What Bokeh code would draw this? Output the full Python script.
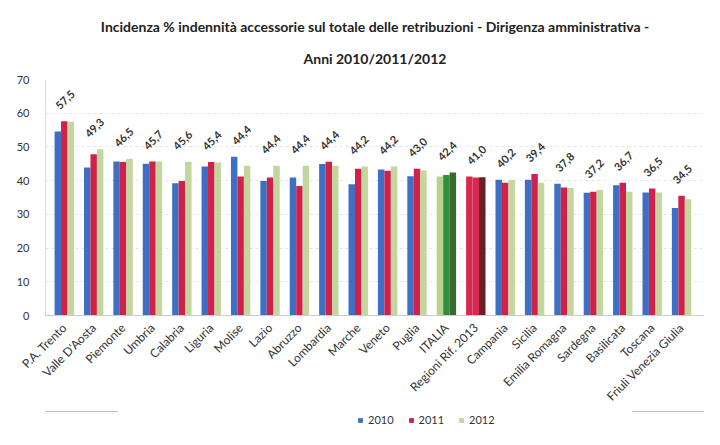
import math
from bokeh.plotting import figure
from bokeh.layouts import column
from bokeh.models import (ColumnDataSource, FixedTicker, Title, Legend, LegendItem)
from bokeh.transform import dodge
from bokeh.core.properties import value
from bokeh.embed import file_html
from bokeh.resources import INLINE

categories = ["P.A. Trento", "Valle D'Aosta", "Piemonte", "Umbria", "Calabria", "Liguria",
              "Molise", "Lazio", "Abruzzo", "Lombardia", "Marche", "Veneto", "Puglia",
              "ITALIA", "Regioni Rif. 2013", "Campania", "Sicilia", "Emilia Romagna",
              "Sardegna", "Basilicata", "Toscana", "Friuli Venezia Giulia"]
v2010 = [54.6, 43.9, 45.7, 45.0, 39.2, 44.2, 47.1, 39.9, 40.9, 44.9, 38.9, 43.3, 41.3,
         41.2, 41.2, 40.3, 40.3, 39.1, 36.4, 38.6, 36.5, 31.9]
v2011 = [57.6, 47.8, 45.5, 45.7, 39.9, 45.5, 41.2, 40.9, 38.4, 45.6, 43.5, 42.9, 43.5,
         41.7, 40.9, 39.4, 42.0, 38.0, 36.7, 39.4, 37.7, 35.5]
v2012 = [57.5, 49.3, 46.5, 45.7, 45.6, 45.4, 44.4, 44.4, 44.4, 44.4, 44.2, 44.2, 43.0,
         42.4, 41.0, 40.2, 39.4, 37.8, 37.2, 36.7, 36.5, 34.5]
series = ["2010", "2011", "2012"]
y_ticks = [0, 10, 20, 30, 40, 50, 60, 70]

FONT = "Lato"
BLUE, RED, LGREEN = "#3f6fc2", "#cf2149", "#c3d69e"
series_colors = [BLUE, RED, LGREEN]
special = {"ITALIA": ["#b9d38f", "#2f8f40", "#3c6a2c"],
           "Regioni Rif. 2013": ["#d42a50", "#d42a50", "#6b1f24"]}

def colors(k, base):
    return [special[c][k] if c in special else base for c in categories]

xs = list(range(len(categories)))
src = ColumnDataSource(dict(
    x=xs, v2010=v2010, v2011=v2011, v2012=v2012,
    c2010=colors(0, BLUE), c2011=colors(1, RED), c2012=colors(2, LGREEN),
    ymax=[max(a, b, c) for a, b, c in zip(v2010, v2011, v2012)],
    lab=[f"{v:.1f}".replace(".", ",") for v in v2012],
))

p = figure(width=704, height=411, output_backend="svg", toolbar_location=None,
           x_range=(-0.639, 21.78), y_range=(0, 70),
           min_border_left=45, min_border_top=79, min_border_bottom=89, min_border_right=0)
p.outline_line_color = None
p.background_fill_color = "white"

w = 0.22
r10 = p.vbar(x=dodge("x", -w, range=p.x_range), top="v2010", width=w, fill_color="c2010",
             line_color=None, source=src)
r11 = p.vbar(x=dodge("x", 0, range=p.x_range), top="v2011", width=w, fill_color="c2011",
             line_color=None, source=src)
r12 = p.vbar(x=dodge("x", w, range=p.x_range), top="v2012", width=w, fill_color="c2012",
             line_color=None, source=src)

p.text(x="x", y="ymax", text="lab", source=src, angle=math.pi / 4,
       x_offset=-4, y_offset=-11, text_align="left", text_baseline="bottom",
       text_font=value(FONT), text_font_size="11px", text_font_style="bold",
       text_color="#333333")

# axes
p.xaxis.ticker = FixedTicker(ticks=xs)
p.xaxis.major_label_overrides = {i: c for i, c in enumerate(categories)}
p.xaxis.major_label_orientation = math.pi / 4
p.xaxis.major_label_text_font = FONT
p.xaxis.major_label_text_font_size = "12px"
p.xaxis.major_label_text_color = "#333333"
p.xaxis.axis_line_color = "#cccccc"
p.xaxis.major_tick_line_color = None
p.xaxis.minor_tick_line_color = None
p.xaxis.major_label_standoff = 4

p.yaxis.ticker = FixedTicker(ticks=y_ticks)
p.yaxis.major_label_text_font = FONT
p.yaxis.major_label_text_font_size = "11px"
p.yaxis.major_label_text_color = "#333333"
p.yaxis.axis_line_color = "#dddddd"
p.yaxis.major_tick_line_color = None
p.yaxis.minor_tick_line_color = None
p.yaxis.major_label_standoff = 10

p.xgrid.grid_line_color = None
p.ygrid.grid_line_color = "#e4e4e4"
p.ygrid.grid_line_dash = "3 3"

p.title.text = "Incidenza % indennità accessorie sul totale delle retribuzioni - Dirigenza amministrativa -"
p.title.standoff = 0
t2 = Title(text="Anni 2010/2011/2012", standoff=26)
for t in [p.title, t2]:
    t.align = "center"
    t.text_font = FONT
    t.text_font_size = "14px"
    t.text_font_style = "bold"
    t.text_color = "#222222"
    t.offset = -12
p.add_layout(t2, "above")

# legend strip below the chart (its bars lie outside the strip's view; only the key shows)
p2 = figure(width=704, height=18, output_backend="svg", toolbar_location=None,
            x_range=(0, 1), y_range=(-2, -1), x_axis_location=None, y_axis_location=None,
            min_border=0)
p2.outline_line_color = None
p2.xgrid.visible = False
p2.ygrid.visible = False
leg_renderers = [p2.vbar(x="x", top=col, width=w, fill_color=c, line_color=None, source=src)
                 for col, c in zip(["v2010", "v2011", "v2012"], series_colors)]
legend = Legend(items=[LegendItem(label=s, renderers=[r])
                       for s, r in zip(series, leg_renderers)],
                orientation="horizontal", location=(312, 3),
                label_text_font=FONT, label_text_font_size="11px",
                label_text_color="#333333", glyph_width=6, glyph_height=6,
                label_height=12, spacing=14, label_standoff=5, padding=0, margin=0,
                border_line_color=None, background_fill_alpha=0)
p2.add_layout(legend, "center")

layout = column(p, p2, spacing=0)
open("out.html", "w").write(file_html(layout, INLINE))
